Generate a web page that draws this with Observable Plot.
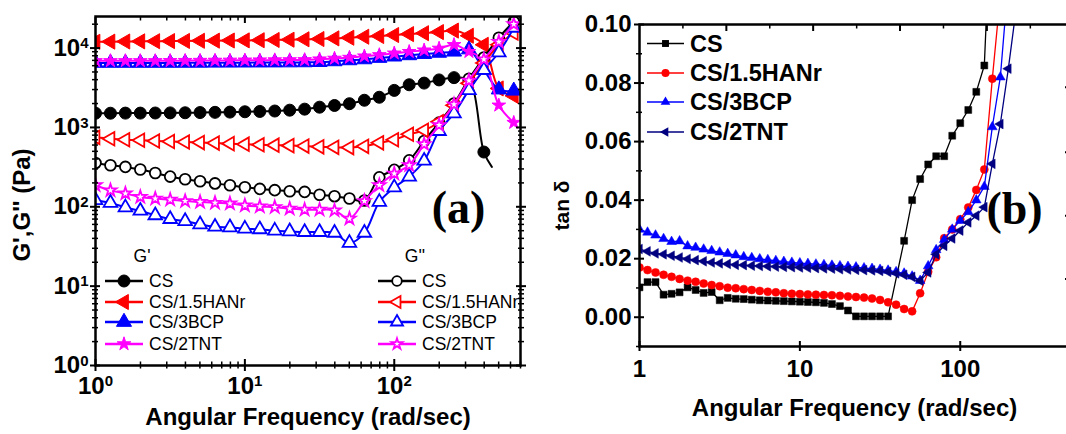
<!DOCTYPE html>
<html><head><meta charset="utf-8">
<script src="https://cdn.jsdelivr.net/npm/d3@7"></script>
<script src="https://cdn.jsdelivr.net/npm/@observablehq/plot@0.6"></script>
<style>
html,body{margin:0;padding:0;background:#fff;overflow:hidden;width:1066px;height:434px}
#wrap{position:relative;width:1066px;height:434px;overflow:hidden}
#wrap svg{position:absolute;top:0}
</style></head><body><div id="wrap"></div>
<script>
// ---------- Panel (a): G', G'' vs angular frequency ----------
const freqA = [1, 1.259, 1.585, 1.995, 2.512, 3.162, 3.981, 5.012, 6.31, 7.943, 10, 12.59, 15.85, 19.95, 25.12, 31.62, 39.81, 50.12, 63.1, 79.43, 100, 125.9, 158.5, 199.5, 251.2, 316.2, 398.1, 501.2, 631];
const gpCS  = [1510, 1510, 1515, 1515, 1520, 1525, 1530, 1540, 1550, 1560, 1575, 1590, 1610, 1650, 1700, 1800, 1890, 1990, 2200, 2400, 2930, 3450, 3620, 3970, 4240, 3900, 490, null, null];
const gpCSTail = [450, 318];
const gpHAN = [12000, 12050, 12100, 12150, 12200, 12250, 12300, 12350, 12400, 12450, 12500, 12550, 12650, 12750, 12900, 13000, 13250, 13500, 13900, 14200, 14600, 15000, 15400, 15900, 16600, 14300, 11000, 3100, 2500];
const gpBCP = [6500, 6500, 6500, 6500, 6500, 6500, 6510, 6520, 6530, 6540, 6550, 6560, 6570, 6580, 6600, 6650, 6800, 7000, 7200, 7500, 7800, 8100, 8400, 8700, 9000, 9600, 5300, 3000, 2900];
const gpTNT = [6900, 6900, 6900, 6900, 6900, 6920, 6940, 6960, 6980, 7000, 7020, 7040, 7060, 7080, 7100, 7250, 7400, 7600, 7900, 8200, 8600, 9000, 9400, 9900, 11000, 9000, 7100, 1900, 1150];
const gppCS  = [357, 334, 318, 295, 267, 240, 222, 210, 197, 187, 176, 168, 162, 157, 154, 142, 136, 127, 120, 235, 292, 385, 675, 1150, 2000, 4100, 7600, 13500, 21500];
const gppHAN = [750, 720, 700, 690, 675, 665, 655, 645, 635, 625, 615, 605, 598, 590, 582, 570, 562, 558, 578, 640, 700, 820, 920, 1180, 1900, 3600, 6500, 11000, 15500];
const gppBCP = [121, 112, 98, 89, 78, 70, 66, 60, 56, 55, 53, 52, 50, 49, 48, 48, 47, 35, 47, 115, 175, 240, 380, 900, 1500, 2950, 5300, 8800, 18000];
const gppTNT = [187, 161, 147, 133, 127, 123, 118, 115, 112, 110, 104, 101, 99, 95, 92, 92, 90, 71, 118, 187, 262, 334, 615, 1070, 1950, 3900, 7200, 12000, 20000];
const namesA = ["CS", "CS/1.5HANr", "CS/3BCP", "CS/2TNT"];
const colorsA = ["#000000", "#ff0000", "#0000ff", "#ff00ff"];
const majorXa = [1, 10, 100];
const minorXa = [2, 3, 4, 5, 6, 7, 8, 9, 20, 30, 40, 50, 60, 70, 80, 90, 200, 300, 400, 500, 600, 700];
const majorYa = [1, 10, 100, 1000, 10000];
const minorYa = [2, 3, 4, 5, 6, 7, 8, 9, 20, 30, 40, 50, 60, 70, 80, 90, 200, 300, 400, 500, 600, 700, 800, 900, 2000, 3000, 4000, 5000, 6000, 7000, 8000, 9000, 20000];

// ---------- Panel (b): tan delta ----------
const freqB = [1, 1.122, 1.259, 1.413, 1.585, 1.778, 1.995, 2.239, 2.512, 2.818, 3.162, 3.548, 3.981, 4.467, 5.012, 5.623, 6.31, 7.079, 7.943, 8.913, 10, 11.22, 12.59, 14.13, 15.85, 17.78, 19.95, 22.39, 25.12, 28.18, 31.62, 35.48, 39.81, 44.67, 50.12, 56.23, 63.1, 70.79, 79.43, 89.13, 100, 112.2, 125.9, 141.3, 158.5, 177.8, 199.5, 223.9];
const tanCS  = [0.0102, 0.0120, 0.0120, 0.0077, 0.0080, 0.0085, 0.0102, 0.0093, 0.0083, 0.0086, 0.0058, 0.0066, 0.0063, 0.0062, 0.0060, 0.0058, 0.0057, 0.0056, 0.0055, 0.0054, 0.0053, 0.0052, 0.0051, 0.0049, 0.0045, 0.0038, 0.0023, 0.0003, 0.0003, 0.0003, 0.0003, 0.0003, null, 0.0261, 0.0400, 0.0472, 0.0522, 0.0550, 0.0550, 0.0620, 0.0663, 0.0708, 0.0770, 0.0860, 0.150, null, null, null];
const tanHAN = [0.0170, 0.0161, 0.0153, 0.0145, 0.0138, 0.0131, 0.0125, 0.0121, 0.0115, 0.0110, 0.0106, 0.0101, 0.0099, 0.0096, 0.0093, 0.0090, 0.0087, 0.0085, 0.0082, 0.0080, 0.0079, 0.0078, 0.0077, 0.0076, 0.0075, 0.0073, 0.0071, 0.0069, 0.0067, 0.0064, 0.0059, 0.0051, 0.0043, 0.0028, 0.0020, 0.0082, 0.0155, 0.0205, 0.0270, 0.0300, 0.0335, 0.0375, 0.0435, 0.0505, 0.0815, 0.110, null, null];
const tanBCP = [0.0300, 0.0290, 0.0280, 0.0268, 0.0258, 0.0260, 0.0243, 0.0238, 0.0232, 0.0227, 0.0222, 0.0217, 0.0212, 0.0206, 0.0203, 0.0199, 0.0196, 0.0193, 0.0190, 0.0187, 0.0185, 0.0183, 0.0181, 0.0179, 0.0177, 0.0175, 0.0173, 0.0171, 0.0168, 0.0166, 0.0163, 0.0160, 0.0155, 0.0150, 0.0140, 0.0125, 0.0175, 0.0230, 0.0265, 0.0300, 0.0330, 0.0360, 0.0400, 0.0446, 0.0650, 0.0820, 0.115, null];
const tanTNT = [0.0233, 0.0225, 0.0218, 0.0215, 0.0210, 0.0204, 0.0199, 0.0195, 0.0191, 0.0187, 0.0184, 0.0182, 0.0179, 0.0178, 0.0176, 0.0175, 0.0174, 0.0173, 0.0172, 0.0171, 0.0170, 0.0169, 0.0168, 0.0167, 0.0166, 0.0164, 0.0163, 0.0162, 0.0161, 0.0160, 0.0158, 0.0155, 0.0150, 0.0145, 0.0138, 0.0125, 0.0153, 0.0215, 0.0244, 0.0269, 0.0296, 0.0324, 0.0347, 0.0376, 0.0524, 0.0660, 0.0849, 0.106];
const namesB = ["CS", "CS/1.5HANr", "CS/3BCP", "CS/2TNT"];
const colorsB = ["#000000", "#ff0000", "#0000ff", "#000080"];
const majorXb = [1, 10, 100];
const majorYb = [0, 0.02, 0.04, 0.06, 0.08, 0.10];
const minorYb = [-0.01, 0.01, 0.03, 0.05, 0.07, 0.09];
const topMajorB = [3.48, 12.1, 42.1, 146.6];
const topMinorB = [1.865, 6.49, 22.6, 78.6, 273.5];
const rightTicksB = [0.0131, 0.0347, 0.0564, 0.0786];

// ---------- helpers ----------
const sqrt3 = Math.sqrt(3);
const triLeft = {draw(ctx, size) {
  const y = -Math.sqrt(size / (sqrt3 * 3));
  ctx.moveTo(y * 2, 0); ctx.lineTo(-y, -sqrt3 * y); ctx.lineTo(-y, sqrt3 * y); ctx.closePath();
}};
const rows = (xs, ys) => xs.map((x, i) => ({x, y: ys[i]})).filter(d => d.y != null);
const SUP = {"0": "\u2070", "1": "\u00b9", "2": "\u00b2", "3": "\u00b3", "4": "\u2074"};
const fmtPow = d => "10" + SUP[String(Math.round(Math.log10(d)))];
const blank = () => "";

function ticks(axis, values, anchor, size, sw, extra = {}) {
  const f = axis === "x" ? Plot.axisX : Plot.axisY;
  return f(values, {anchor, tickSize: size, strokeWidth: sw, tickFormat: blank, label: null, ...extra});
}

const symA = ["circle", triLeft, "triangle", "star"];
const rA = [6, 5.6, 5.6, 4.3];
const gpAll = [gpCS, gpHAN, gpBCP, gpTNT];
const gppAll = [gppCS, gppHAN, gppBCP, gppTNT];
const serif = "Liberation Serif, Times New Roman, serif";

// ---------- build panel (a) ----------
const marksA = [];
for (let i = 0; i < 4; i++) {
  const pts = rows(freqA, gpAll[i]);
  const lineData = i === 0 ? pts.concat([{x: gpCSTail[0], y: gpCSTail[1]}]) : pts;
  marksA.push(Plot.line(lineData, {x: "x", y: "y", stroke: colorsA[i], strokeWidth: 2, curve: "catmull-rom", clip: true}));
  marksA.push(Plot.dot(pts, {x: "x", y: "y", symbol: symA[i], r: rA[i], fill: colorsA[i], stroke: colorsA[i], strokeWidth: 1, clip: true}));
}
for (let i = 0; i < 4; i++) {
  const pts = rows(freqA, gppAll[i]);
  marksA.push(Plot.line(pts, {x: "x", y: "y", stroke: colorsA[i], strokeWidth: 2, curve: "catmull-rom", clip: true}));
  marksA.push(Plot.dot(pts, {x: "x", y: "y", symbol: symA[i], r: rA[i] * 0.9, fill: "white", stroke: colorsA[i], strokeWidth: 1.8, clip: true}));
}
const plotA = Plot.plot({
  width: 540, height: 434,
  marginLeft: 95, marginRight: 20, marginTop: 16, marginBottom: 69,
  style: {fontFamily: "Liberation Sans, Arial, sans-serif", fontSize: "24px", fontWeight: "bold", color: "black", background: "white", overflow: "visible"},
  x: {type: "log", domain: [1, 700]},
  y: {type: "log", domain: [1, 25000]},
  marks: [
    ...marksA,
    Plot.axisX(majorXa, {anchor: "bottom", tickSize: 6, strokeWidth: 2, tickPadding: 5, tickFormat: fmtPow, label: null, fontSize: 24, fontWeight: "bold"}),
    ticks("x", majorXa, "bottom", -6, 2),
    ticks("x", minorXa, "bottom", 3.5, 1.5), ticks("x", minorXa, "bottom", -3.5, 1.5),
    ticks("x", majorXa, "top", -6, 2),
    ticks("x", minorXa, "top", -3.5, 1.5),
    Plot.axisY(majorYa, {anchor: "left", tickSize: 5, strokeWidth: 2, tickPadding: 2, tickFormat: fmtPow, label: null, fontSize: 24, fontWeight: "bold"}),
    ticks("y", majorYa, "left", -5, 2),
    ticks("y", minorYa, "left", 3, 1.5), ticks("y", minorYa, "left", -3, 1.5),
    ticks("y", majorYa, "right", 5, 2), ticks("y", majorYa, "right", -5, 2),
    ticks("y", minorYa, "right", 3, 1.5), ticks("y", minorYa, "right", -3, 1.5),
    Plot.frame({stroke: "black", strokeWidth: 2.5}),
    Plot.text(["G',G'' (Pa)"], {text: d => d, frameAnchor: "left", textAnchor: "middle", lineAnchor: "middle", rotate: -90, dx: -73, dy: 14, fontSize: 24, fontWeight: "bold", fill: "black"}),
    Plot.text(["Angular Frequency (rad/sec)"], {text: d => d, frameAnchor: "bottom", textAnchor: "middle", lineAnchor: "middle", dy: 52, fontSize: 24, fontWeight: "bold", fill: "black"}),
    Plot.text(["(a)"], {text: d => d, frameAnchor: "right", textAnchor: "middle", lineAnchor: "middle", dx: -62, dy: 17, fontSize: 46, fontWeight: "bold", fontFamily: serif, fill: "black"})
  ]
});
plotA.style.left = "0px";

// ---------- build panel (b) ----------
const symB = ["square", "circle", "triangle", triLeft];
const rB = [3.9, 4, 3.6, 3.6];
const tanAll = [tanCS, tanHAN, tanBCP, tanTNT];
const marksB = [];
for (let i = 0; i < 4; i++) {
  const pts = rows(freqB, tanAll[i]);
  marksB.push(Plot.line(pts, {x: "x", y: "y", stroke: colorsB[i], strokeWidth: 1.3, clip: true}));
  marksB.push(Plot.dot(pts, {x: "x", y: "y", symbol: symB[i], r: rB[i], fill: colorsB[i], stroke: colorsB[i], strokeWidth: 0.5, clip: true}));
}
const plotB = Plot.plot({
  width: 530, height: 434,
  marginLeft: 99, marginRight: 1, marginTop: 24, marginBottom: 88,
  style: {fontFamily: "Liberation Sans, Arial, sans-serif", fontSize: "24px", fontWeight: "bold", color: "black", background: "white", overflow: "visible"},
  x: {type: "log", domain: [1, 480]},
  y: {domain: [-0.01, 0.10]},
  marks: [
    ...marksB,
    Plot.axisX(majorXb, {anchor: "bottom", tickSize: 5, strokeWidth: 2, tickPadding: 8, tickFormat: d => String(d), label: null, fontSize: 24, fontWeight: "bold"}),
    ticks("x", majorXb, "bottom", -5, 2),
    ticks("x", topMajorB, "top", -6, 2),
    ticks("x", topMinorB, "top", -3.5, 1.5),
    Plot.axisY(majorYb, {anchor: "left", tickSize: 5, strokeWidth: 2, tickPadding: 3, tickFormat: d3.format(".2f"), label: null, fontSize: 24, fontWeight: "bold"}),
    ticks("y", majorYb, "left", -5, 2),
    ticks("y", minorYb, "left", 3, 1.5), ticks("y", minorYb, "left", -3, 1.5),
    ticks("y", rightTicksB, "right", -5, 2),
    Plot.frame({stroke: "black", strokeWidth: 2.5}),
    Plot.text(["tan \u03b4"], {text: d => d, frameAnchor: "left", textAnchor: "middle", lineAnchor: "middle", rotate: -90, dx: -77, dy: 20, fontSize: 21, fontWeight: "bold", fill: "black"}),
    Plot.text(["Angular Frequency (rad/sec)"], {text: d => d, frameAnchor: "bottom", textAnchor: "middle", lineAnchor: "middle", dy: 62, fontSize: 24, fontWeight: "bold", fill: "black"}),
    Plot.text(["(b)"], {text: d => d, frameAnchor: "right", textAnchor: "middle", lineAnchor: "middle", dx: -55, dy: 24, fontSize: 46, fontWeight: "bold", fontFamily: serif, fill: "black"})
  ]
});
plotB.style.left = "540px";

const wrap = document.getElementById("wrap");
wrap.appendChild(plotA);
wrap.appendChild(plotB);

// superscript tick labels as real tspans
for (const t of plotA.querySelectorAll("text")) {
  const m = /^10([\u2070\u00b9\u00b2\u00b3\u2074])$/.exec(t.textContent);
  if (!m) continue;
  const exp = {"\u2070": "0", "\u00b9": "1", "\u00b2": "2", "\u00b3": "3", "\u2074": "4"}[m[1]];
  t.textContent = "";
  const a = document.createElementNS("http://www.w3.org/2000/svg", "tspan");
  a.textContent = "10";
  const b = document.createElementNS("http://www.w3.org/2000/svg", "tspan");
  b.textContent = exp;
  b.setAttribute("dy", "-0.5em");
  b.setAttribute("font-size", "15");
  t.appendChild(a); t.appendChild(b);
}

// ---------- legends ----------
const symType = s => typeof s === "string" ? {circle: d3.symbolCircle, triangle: d3.symbolTriangle, star: d3.symbolStar, square: d3.symbolSquare}[s] : s;
{
  const g = d3.select(plotA).append("g").attr("font-family", "Liberation Sans, Arial, sans-serif").attr("font-size", 17.5).attr("font-weight", "normal").attr("fill", "black").attr("text-anchor", "start");
  g.append("text").attr("x", 142).attr("y", 256).attr("text-anchor", "middle").attr("dominant-baseline", "central").text("G'");
  g.append("text").attr("x", 415).attr("y", 256).attr("text-anchor", "middle").attr("dominant-baseline", "central").text("G''");
  const ys = [281, 302, 322, 344];
  for (let i = 0; i < 4; i++) {
    const y = ys[i];
    for (const [x0, open] of [[105, false], [378, true]]) {
      g.append("line").attr("x1", x0).attr("x2", x0 + 38).attr("y1", y).attr("y2", y).attr("stroke", colorsA[i]).attr("stroke-width", 2.5);
      const r = open ? rA[i] * 0.8 : rA[i];
      g.append("path").attr("d", d3.symbol(symType(symA[i]), Math.PI * r * r)())
        .attr("transform", `translate(${x0 + 19},${y})`)
        .attr("fill", open ? "white" : colorsA[i]).attr("stroke", colorsA[i]).attr("stroke-width", open ? 1.8 : 1);
      g.append("text").attr("x", x0 + 44).attr("y", y).attr("text-anchor", "start").attr("dominant-baseline", "central").text(namesA[i]);
    }
  }
}
{
  const g = d3.select(plotB).append("g").attr("font-family", "Liberation Sans, Arial, sans-serif").attr("font-size", 23.5).attr("font-weight", "bold").attr("fill", "black").attr("text-anchor", "start");
  const ys = [43.5, 73, 102, 132];
  for (let i = 0; i < 4; i++) {
    const y = ys[i];
    g.append("line").attr("x1", 107).attr("x2", 144).attr("y1", y).attr("y2", y).attr("stroke", colorsB[i]).attr("stroke-width", 1.5);
    g.append("path").attr("d", d3.symbol(symType(symB[i]), Math.PI * rB[i] * rB[i])())
      .attr("transform", `translate(125.5,${y})`).attr("fill", colorsB[i]);
    g.append("text").attr("x", 150).attr("y", y).attr("text-anchor", "start").attr("dominant-baseline", "central").text(namesB[i]);
  }
}
</script>
</body></html>
